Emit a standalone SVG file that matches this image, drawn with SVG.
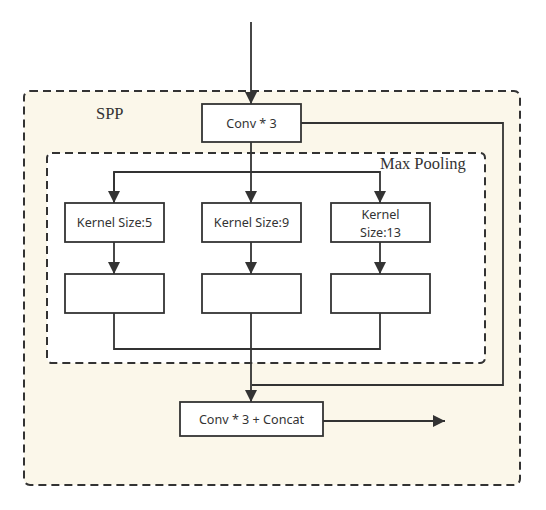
<svg xmlns="http://www.w3.org/2000/svg" width="546" height="510" viewBox="0 0 546 510">
<defs>
<style>
.box{fill:#fff;stroke:#333;stroke-width:1.8}
.t{font-family:"Noto Sans","Liberation Sans",sans-serif;font-size:12.6px;fill:#333;text-anchor:middle}
.s{font-family:"Liberation Serif",serif;font-size:16.5px;fill:#333}
.ln{fill:none;stroke:#333;stroke-width:1.8}
.dash{stroke:#333;stroke-width:2;stroke-dasharray:8 5}
</style>
<marker id="ab" viewBox="0 0 10 10" refX="10" refY="5" markerWidth="12" markerHeight="12" markerUnits="userSpaceOnUse" orient="auto">
<path d="M0,0 L10,5 L0,10 z" fill="#333"/>
</marker>
</defs>
<rect width="546" height="510" fill="#fff"/>
<g id="spp">
<rect x="24" y="91" width="496" height="394" rx="6" fill="#fbf7ea" class="dash"/>
<text class="s" x="96" y="119">SPP</text>
</g>
<g id="maxpool">
<rect x="47" y="153" width="438" height="210" rx="5" fill="#fff" class="dash"/>
<text class="s" x="380" y="169">Max Pooling</text>
</g>
<g id="connectors">
<line x1="251" y1="22" x2="251" y2="104" class="ln" stroke-width="2.2" marker-end="url(#ab)"/>
<path d="M251,142 V172" class="ln"/>
<path d="M114,203 V172 H380 V203" class="ln" marker-end="url(#ab)"/>
<path d="M114,172 V203" class="ln" marker-end="url(#ab)"/>
<path d="M251,172 V203" class="ln" marker-end="url(#ab)"/>
<path d="M114,242 V274" class="ln" marker-end="url(#ab)"/>
<path d="M251,242 V274" class="ln" marker-end="url(#ab)"/>
<path d="M380,242 V274" class="ln" marker-end="url(#ab)"/>
<path d="M114,313 V349 H380 V313" class="ln"/>
<path d="M251,313 V349" class="ln"/>
<path d="M301,123 H503 V385 H252" class="ln"/>
<path d="M251,349 V402" class="ln" stroke-width="2.4" marker-end="url(#ab)"/>
<path d="M323,421 H445" class="ln" marker-end="url(#ab)"/>
</g>
<g id="conv3">
<rect class="box" x="202" y="104" width="99" height="38"/>
<text class="t" x="251.5" y="127.5">Conv * 3</text>
</g>
<g id="k5">
<rect class="box" x="65" y="203" width="99" height="39"/>
<text class="t" x="114.5" y="227">Kernel Size:5</text>
</g>
<g id="k9">
<rect class="box" x="202" y="203" width="99" height="39"/>
<text class="t" x="251.5" y="227">Kernel Size:9</text>
</g>
<g id="k13">
<rect class="box" x="331" y="203" width="99" height="39"/>
<text class="t" x="380.5" y="219">Kernel</text>
<text class="t" x="380.5" y="237">Size:13</text>
</g>
<g id="p1"><rect class="box" x="65" y="274" width="99" height="39"/></g>
<g id="p2"><rect class="box" x="202" y="274" width="99" height="39"/></g>
<g id="p3"><rect class="box" x="331" y="274" width="99" height="39"/></g>
<g id="concat">
<rect class="box" x="180" y="402" width="143" height="34"/>
<text class="t" x="251.5" y="423.5">Conv * 3 + Concat</text>
</g>
</svg>
